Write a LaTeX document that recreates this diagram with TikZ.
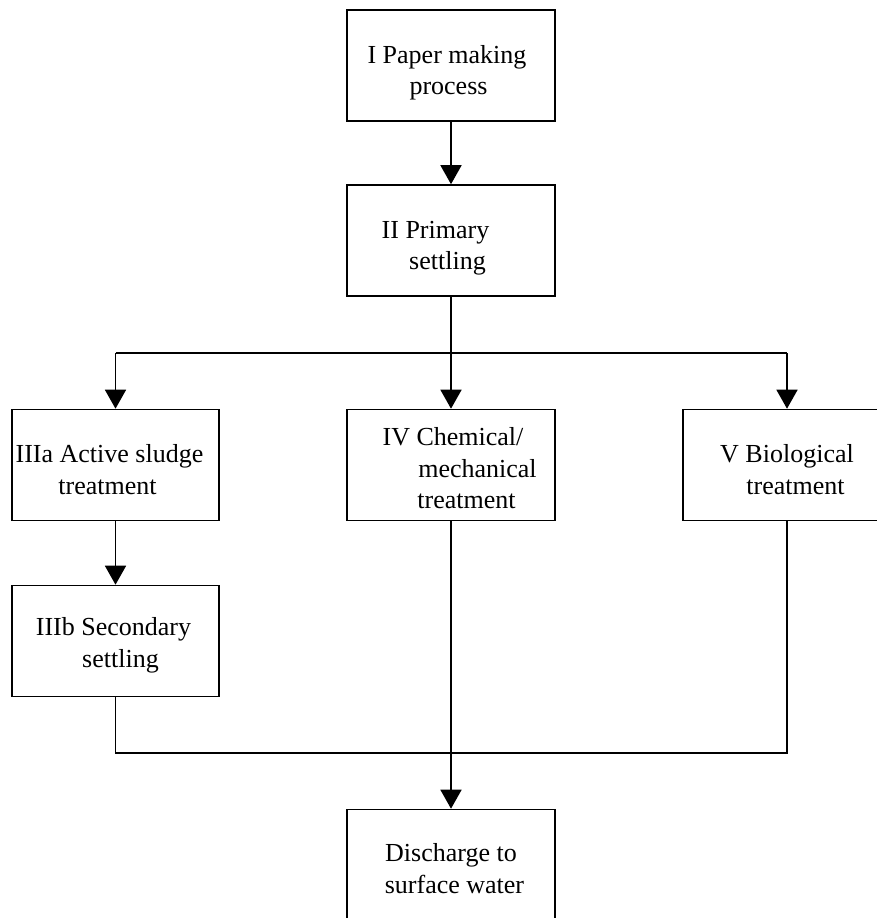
\documentclass[tikz,border=0pt]{standalone}
\usepackage{fontspec}
\setmainfont{Liberation Serif}
\usetikzlibrary{arrows.meta}
\tikzset{
  procbox/.style={draw=black, line width=1.6pt, rectangle, minimum width=208pt, minimum height=111pt, inner sep=0pt},
  boxtext/.style={align=center, inner sep=0pt, font=\fontsize{26}{31.5}\selectfont},
  conn/.style={draw=black, line width=1.6pt},
  arr/.style={conn, -{Triangle[width=21pt,length=19pt]}}
}
\begin{document}
\begin{tikzpicture}[x=1pt,y=-1pt]
\useasboundingbox (0,0) rectangle (877,918);
\clip (0,0) rectangle (877,918);
% boxes
\node[procbox] (p1) at (451,65.5) {};
\node[procbox] (p2) at (451,240.5) {};
\node[procbox, minimum width=207pt] (p3a) at (115.5,465) {};
\node[procbox] (p4) at (451,465) {};
\node[procbox] (p5) at (787,465) {};
\node[procbox, minimum width=207pt] (p3b) at (115.5,641) {};
\node[procbox] (p6) at (451,865) {};
% texts
\node[boxtext] (t1) at ([yshift=-7pt]p1.center) {\strut I Paper making\hspace*{8pt}\\\strut process\hspace*{5pt}};
\node[boxtext] (t2) at ([yshift=-7pt]p2.center) {\strut II Primary\hspace*{31pt}\\\strut settling\hspace*{7pt}};
\node[boxtext] (t3a) at ([yshift=-7pt]p3a.center) {\strut IIIa Active sludge\hspace*{12pt}\\\strut treatment\hspace*{16pt}};
\node[boxtext] (t4) at ([yshift=-6pt]p4.center) {\strut\hspace*{4pt}IV Chemical/\\\strut\hspace*{53pt}mechanical\\\strut\hspace*{31pt}treatment};
\node[boxtext] (t5) at ([yshift=-7pt]p5.center) {\strut V Biological\\\strut\hspace*{17pt}treatment};
\node[boxtext] (t3b) at ([yshift=-4pt]p3b.center) {\strut IIIb Secondary\hspace*{4pt}\\\strut\hspace*{10pt}settling};
\node[boxtext] (t6) at ([yshift=-6pt]p6.center) {\strut Discharge to\\\strut\hspace*{7pt}surface water};
% junction coordinates
\coordinate (j) at (451,353);
\coordinate (k) at (451,753);
% connectors
\draw[arr] (p1) -- (p2);
\draw[conn] (p2.south) -- (j);
\draw[conn] (p3a.north |- j) -- (p5.north |- j);
\draw[arr] (p3a.north |- j) -- (p3a.north);
\draw[arr] (j) -- (p4.north);
\draw[arr] (p5.north |- j) -- (p5.north);
\draw[arr] (p3a) -- (p3b);
\draw[conn] (p3b.south) -- (p3b.south |- k) -- (p5.south |- k) -- (p5.south);
\draw[arr] (p4.south) -- (p6.north);
\end{tikzpicture}
\end{document}
